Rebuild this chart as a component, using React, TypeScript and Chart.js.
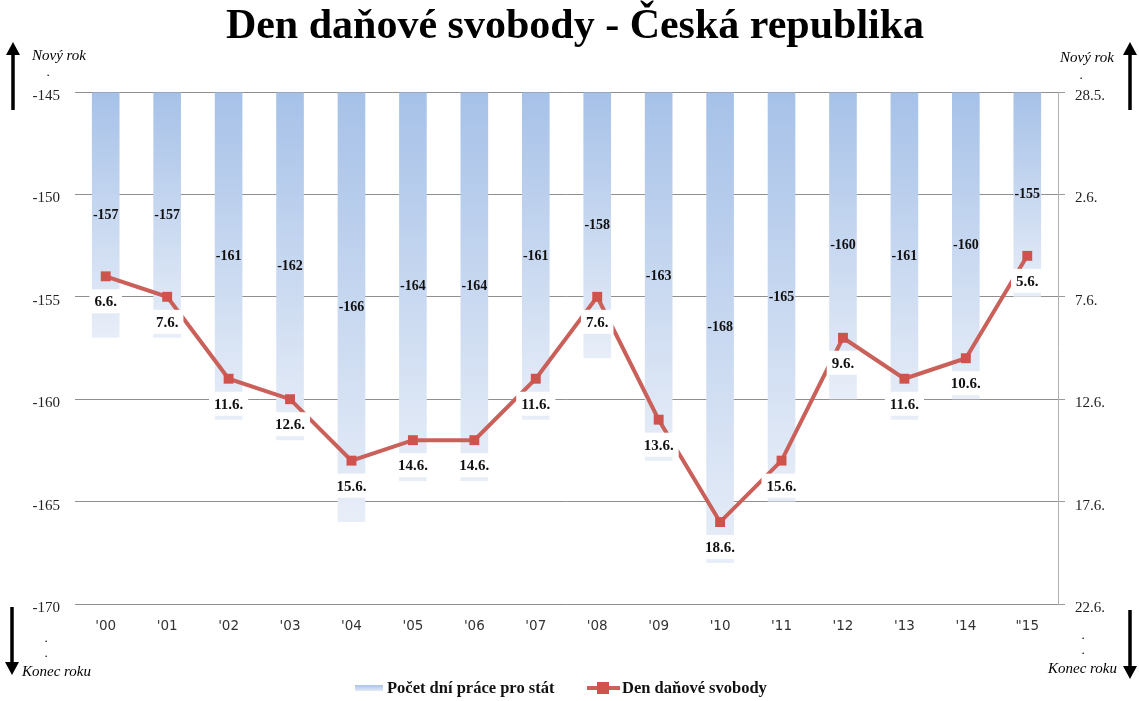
import { useEffect, useRef } from "react"
import { Chart, registerables } from "chart.js"

Chart.register(...registerables)

const years = ["'00", "'01", "'02", "'03", "'04", "'05", "'06", "'07", "'08", "'09", "'10", "'11", "'12", "'13", "'14", "\"15"]
const daysForState = [-157, -157, -161, -162, -166, -164, -164, -161, -158, -163, -168, -165, -160, -161, -160, -155]
const freedomDay = [-154, -155, -159, -160, -163, -162, -162, -159, -155, -161, -166, -163, -157, -159, -158, -153]
const freedomDayLabels = ["6.6.", "7.6.", "11.6.", "12.6.", "15.6.", "14.6.", "14.6.", "11.6.", "7.6.", "13.6.", "18.6.", "15.6.", "9.6.", "11.6.", "10.6.", "5.6."]
const rightTickLabels = ["22.6.", "17.6.", "12.6.", "7.6.", "2.6.", "28.5."]

const SERIF = "'Liberation Serif', 'DejaVu Serif', serif"
const SANS = "'DejaVu Sans', Verdana, sans-serif"
const LINE_COLOR = "#c9605a"
const MARKER_COLOR = "#d0524c"

function arrow(ctx: CanvasRenderingContext2D, x: number, y1: number, y2: number) {
  // y1 = tail, y2 = head
  const dir = y2 < y1 ? -1 : 1
  ctx.save()
  ctx.strokeStyle = "#000"
  ctx.fillStyle = "#000"
  ctx.lineWidth = 3.5
  ctx.beginPath()
  ctx.moveTo(x, y1)
  ctx.lineTo(x, y2 - dir * 10)
  ctx.stroke()
  ctx.beginPath()
  ctx.moveTo(x, y2)
  ctx.lineTo(x - 7, y2 - dir * 13)
  ctx.lineTo(x + 7, y2 - dir * 13)
  ctx.closePath()
  ctx.fill()
  ctx.restore()
}

const decorPlugin = {
  id: "decor",
  afterDatasetDraw(chart: any, args: any) {
    if (args.index !== 0) return
    // value labels inside the bars
    const ctx = chart.ctx
    const meta = chart.getDatasetMeta(0)
    ctx.save()
    ctx.font = `bold 14px ${SERIF}`
    ctx.fillStyle = "#111"
    ctx.textAlign = "center"
    ctx.textBaseline = "middle"
    meta.data.forEach((bar: any, i: number) => {
      const mid = (bar.y + bar.base) / 2
      ctx.fillText(String(daysForState[i]), bar.x, mid)
    })
    ctx.restore()
  },
  afterDatasetsDraw(chart: any) {
    const ctx = chart.ctx
    const meta = chart.getDatasetMeta(1)
    ctx.save()
    ctx.font = `bold 15px ${SERIF}`
    ctx.textAlign = "center"
    ctx.textBaseline = "middle"
    meta.data.forEach((pt: any, i: number) => {
      const txt = freedomDayLabels[i]
      const w = ctx.measureText(txt).width + 10
      const cy = pt.y + 25
      ctx.fillStyle = "#fff"
      ctx.fillRect(pt.x - w / 2, cy - 12, w, 24)
      ctx.fillStyle = "#111"
      ctx.fillText(txt, pt.x, cy + 1)
    })
    ctx.restore()
  },
  afterDraw(chart: any) {
    const ctx = chart.ctx
    ctx.save()
    // title
    ctx.fillStyle = "#000"
    ctx.font = `bold 42px ${SERIF}`
    ctx.textAlign = "center"
    ctx.textBaseline = "middle"
    ctx.fillText("Den daňové svobody - Česká republika", 575, 27)

    // arrows and their notes
    arrow(ctx, 13, 110, 42)
    arrow(ctx, 1130, 110, 42)
    arrow(ctx, 12, 607, 675)
    arrow(ctx, 1130, 610, 679)

    ctx.font = `italic 15px ${SERIF}`
    ctx.textBaseline = "middle"
    ctx.textAlign = "left"
    ctx.fillText("Nový rok", 32, 56)
    ctx.fillText("Konec roku", 22, 672)
    ctx.textAlign = "right"
    ctx.fillText("Nový rok", 1114, 58)
    ctx.fillText("Konec roku", 1117, 669)

    ctx.textAlign = "center"
    ctx.font = `13px ${SERIF}`
    ctx.fillText(".", 48, 73)
    ctx.fillText(".", 1081, 76)
    ctx.fillText(".", 46, 639)
    ctx.fillText(".", 46, 654)
    ctx.fillText(".", 1083, 636)
    ctx.fillText(".", 1083, 651)

    // legend
    const ly = 688
    const g = ctx.createLinearGradient(0, ly - 3, 0, ly + 3)
    g.addColorStop(0, "#a9c3e8")
    g.addColorStop(1, "#e3eaf6")
    ctx.fillStyle = g
    ctx.fillRect(355, ly - 3, 28, 6)
    ctx.fillStyle = "#111"
    ctx.font = `bold 16.5px ${SERIF}`
    ctx.textAlign = "left"
    ctx.fillText("Počet dní práce pro stát", 387, ly + 1)

    ctx.strokeStyle = LINE_COLOR
    ctx.lineWidth = 4
    ctx.beginPath()
    ctx.moveTo(587, ly)
    ctx.lineTo(620, ly)
    ctx.stroke()
    ctx.fillStyle = MARKER_COLOR
    ctx.fillRect(597, ly - 6, 12, 12)
    ctx.fillStyle = "#111"
    ctx.fillText("Den daňové svobody", 622, ly + 1)
    ctx.restore()
  },
}

export default function App() {
  const chartRef = useRef<HTMLCanvasElement>(null)
  const chartInstance = useRef<Chart | null>(null)

  useEffect(() => {
    document.body.style.margin = "0"
    if (!chartRef.current) return
    if (chartInstance.current) {
      chartInstance.current.destroy()
    }
    const ctx = chartRef.current.getContext("2d")
    if (!ctx) return

    chartInstance.current = new Chart(ctx, {
      type: "bar",
      data: {
        labels: years,
        datasets: [
          {
            type: "bar",
            label: "Počet dní práce pro stát",
            data: daysForState,
            base: -145,
            order: 1,
            barPercentage: 0.45,
            categoryPercentage: 1,
            backgroundColor: (c: any) => {
              const chart = c.chart
              const ys = chart.scales?.y
              if (!chart.chartArea || !ys || c.raw === undefined) return "#bcd0ee"
              const top = ys.getPixelForValue(-145)
              const bottom = ys.getPixelForValue(c.raw)
              const g = chart.ctx.createLinearGradient(0, top, 0, bottom)
              g.addColorStop(0, "#a6c1e8")
              g.addColorStop(1, "#e8eef8")
              return g
            },
            borderWidth: 0,
          },
          {
            type: "line",
            label: "Den daňové svobody",
            data: freedomDay,
            order: 0,
            borderColor: LINE_COLOR,
            borderWidth: 4,
            pointStyle: "rect",
            pointRadius: 7,
            pointBackgroundColor: MARKER_COLOR,
            pointBorderColor: MARKER_COLOR,
            pointBorderWidth: 0,
            tension: 0,
          },
        ],
      },
      options: {
        responsive: false,
        animation: false,
        layout: { padding: { top: 92, left: 0, right: 0, bottom: 0 } },
        plugins: {
          legend: { display: false },
          tooltip: { enabled: false },
          title: { display: false },
        },
        scales: {
          x: {
            grid: { display: false, drawTicks: false },
            border: { display: false },
            ticks: {
              color: "#333",
              font: { family: SANS, size: 13.5 },
              padding: 14,
            },
            afterFit: (scale: any) => {
              scale.height = 97
            },
          },
          y: {
            position: "left",
            min: -170,
            max: -145,
            ticks: {
              stepSize: 5,
              color: "#222",
              font: { family: SERIF, size: 15 },
              padding: 15,
              labelOffset: 4,
            },
            grid: { color: "#8f8f8f", lineWidth: 1, drawTicks: false },
            border: { display: false },
            afterFit: (scale: any) => {
              scale.width = 75
            },
          },
          y2: {
            position: "right",
            min: -170,
            max: -145,
            ticks: {
              stepSize: 5,
              color: "#222",
              font: { family: SERIF, size: 15 },
              padding: 10,
              labelOffset: 4,
              callback: (_v: any, i: number) => rightTickLabels[i],
            },
            grid: { drawOnChartArea: false, drawTicks: true, tickLength: 7, color: "#9a9a9a" },
            border: { display: true, color: "#b0b0b0" },
            afterFit: (scale: any) => {
              scale.width = 81
            },
          },
        },
      },
      plugins: [decorPlugin],
    } as any)

    return () => {
      if (chartInstance.current) {
        chartInstance.current.destroy()
        chartInstance.current = null
      }
    }
  }, [])

  return (
    <div style={{ width: 1139, height: 701 }}>
      <canvas ref={chartRef} width={1139} height={701} style={{ width: 1139, height: 701, display: "block" }} />
    </div>
  )
}
